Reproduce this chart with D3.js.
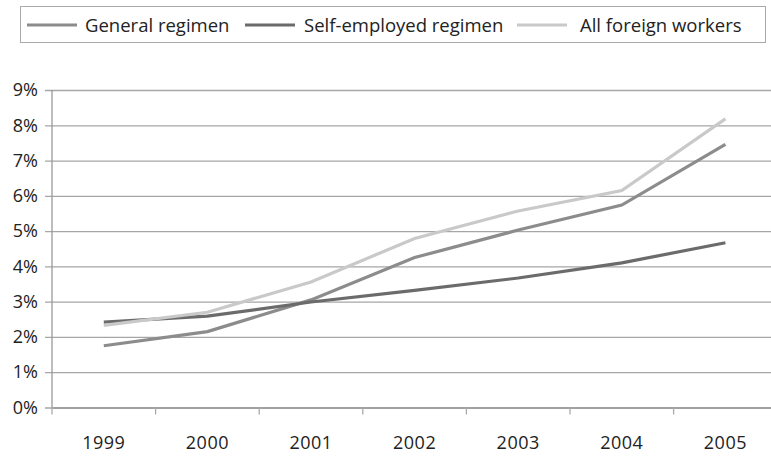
<!DOCTYPE html>
<html><head><meta charset="utf-8">
<script src="https://cdn.jsdelivr.net/npm/d3@7"></script>
<style>
body{margin:0;background:#fff;}
svg{display:block;}
</style></head>
<body><svg id="c" width="771" height="456"></svg>
<script>
const years = ["1999","2000","2001","2002","2003","2004","2005"];
const seriesNames = ["General regimen","Self-employed regimen","All foreign workers"];
const generalRegimen = [1.75, 2.15, 3.05, 4.25, 5.03, 5.74, 7.46];
const selfEmployed = [2.42, 2.59, 2.99, 3.32, 3.67, 4.10, 4.67];
const allForeign = [2.33, 2.70, 3.56, 4.79, 5.57, 6.15, 8.18];
const yTicks = [0,1,2,3,4,5,6,7,8,9];
const colors = ["#8c8c8c","#6b6b6b","#c9c9c9"];

(function(){
const svg = d3.select("#c");
const mLeft = 52, bandW = 103.6, mTop = 90, mBottom = 407.5;
const x = d3.scaleBand().domain(years).range([mLeft, mLeft + bandW*years.length]);
const y = d3.scaleLinear().domain([0,9]).range([mBottom, mTop]);
const font = "'Open Sans',sans-serif";
const tickFont = "'Open Sans', sans-serif";

// gridlines
const yAxis = d3.axisLeft(y).tickValues(yTicks).tickFormat(d => d + "%")
  .tickSize(-(x.range()[1]-mLeft)).tickPadding(14);
const gy = svg.append("g").attr("transform",`translate(${mLeft},0)`).call(yAxis);
gy.select(".domain").remove();
gy.selectAll(".tick line").attr("stroke","#a6a6a6").attr("stroke-width",1.3).attr("x1",-7);
gy.selectAll(".tick text").attr("font-family",tickFont).attr("font-size",18).attr("fill","#222");

// y axis line
svg.append("line").attr("x1",mLeft).attr("x2",mLeft).attr("y1",mTop).attr("y2",mBottom)
  .attr("stroke","#999").attr("stroke-width",1.3);

// x axis
const xAxis = d3.axisBottom(x).tickSize(0).tickPadding(29);
const gx = svg.append("g").attr("transform",`translate(0,${mBottom})`).call(xAxis);
gx.select(".domain").attr("stroke","#999").attr("stroke-width",1.3);
gx.selectAll(".tick text").attr("font-family",tickFont).attr("font-size",18).attr("fill","#222")
  .attr("letter-spacing","0.5px");
const bounds = years.map(d => x(d)).concat([x.range()[1]]);
svg.append("g").selectAll("line").data(bounds).join("line")
  .attr("x1",d=>d).attr("x2",d=>d).attr("y1",mBottom).attr("y2",mBottom+7)
  .attr("stroke","#aaa").attr("stroke-width",1.3);

// lines
const data = [generalRegimen, selfEmployed, allForeign];
const line = d3.line().x((d,i)=>x(years[i]) + x.bandwidth()/2).y(d=>y(d));
svg.append("g").selectAll("path").data(data).join("path")
  .attr("d", line).attr("fill","none")
  .attr("stroke",(d,i)=>colors[i]).attr("stroke-width",3.2);

// legend
svg.append("rect").attr("x",20.5).attr("y",6.5).attr("width",745).attr("height",36)
  .attr("fill","#fff").attr("stroke","#aaa").attr("stroke-width",1);
const legX = [27, 245, 517];
const lg = svg.append("g").selectAll("g").data(seriesNames).join("g")
  .attr("transform",(d,i)=>`translate(${legX[i]},25)`);
lg.append("line").attr("x1",0).attr("x2",50).attr("y1",0).attr("y2",0)
  .attr("stroke",(d,i)=>colors[i]).attr("stroke-width",3.2);
lg.append("text").attr("x",(d,i)=>[58,59,63][i]).attr("y",6.5).text(d=>d)
  .attr("font-family",font).attr("font-size",18.5).attr("fill","#222");
})();
</script></body></html>
